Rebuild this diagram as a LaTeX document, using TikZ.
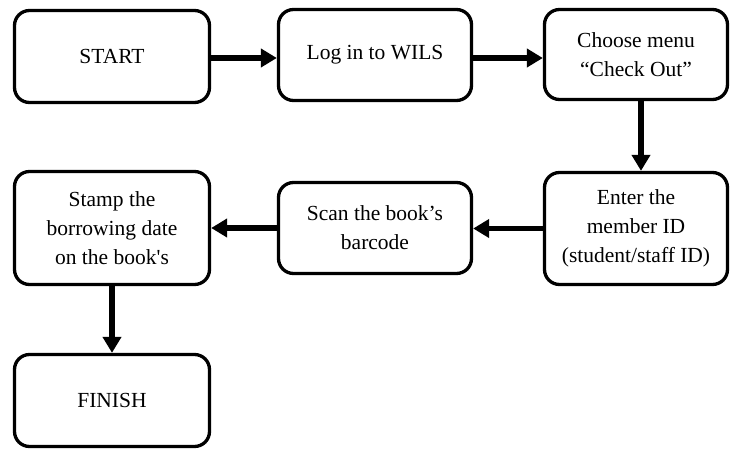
\documentclass[tikz,border=0pt]{standalone}
\usepackage{fontspec}
\setmainfont{Liberation Serif}[Ligatures=TeXOff]
\usetikzlibrary{arrows.meta}

\tikzset{
  stepbox/.style={draw, line width=3.3pt, rounded corners=15pt, fill=white,
    align=center, inner sep=2pt,
    font=\fontsize{21.5pt}{29pt}\selectfont},
  flow/.style={line width=5.5pt, -{Triangle[length=16pt,width=18pt]}}
}

\begin{document}
\begin{tikzpicture}[x=1pt,y=-1pt]
  \useasboundingbox (0,0) rectangle (731,450);

  % top row
  \node[stepbox, minimum width=195pt, minimum height=92pt] (start) at (112,56.5) {START};
  \node[stepbox, minimum width=193pt, minimum height=91pt] (login) at (375,55) {Log in to WILS};
  \node[stepbox, minimum width=183pt, minimum height=90pt] (choose) at (636,54.5) {Choose menu\\“Check Out”};

  % middle row
  \node[stepbox, minimum width=183pt, minimum height=112pt] (enter) at (636,228.5) {Enter the\\member ID\\(student/staff ID)};
  \node[stepbox, minimum width=193pt, minimum height=91pt] (scan) at (375,228) {Scan the book’s\\barcode};
  \node[stepbox, minimum width=195pt, minimum height=113pt] (stamp) at (112,228) {Stamp the\\borrowing date\\on the book's};

  % bottom
  \node[stepbox, minimum width=195pt, minimum height=92pt] (finish) at (112,400.5) {FINISH};

  % connectors
  \draw[flow] ([yshift=-1.5pt]start.east) -- ([yshift=-1.5pt]start.east -| login.west);
  \draw[flow] ([yshift=-3pt]login.east) -- ([yshift=-3pt]login.east -| choose.west);
  \draw[flow] ([xshift=5pt]choose.south) -- ([xshift=5pt]choose.south |- enter.north);
  \draw[flow] (enter.west) -- (enter.west -| scan.east);
  \draw[flow] (scan.west) -- (scan.west -| stamp.east);
  \draw[flow] (stamp.south) -- (finish.north);
\end{tikzpicture}
\end{document}
